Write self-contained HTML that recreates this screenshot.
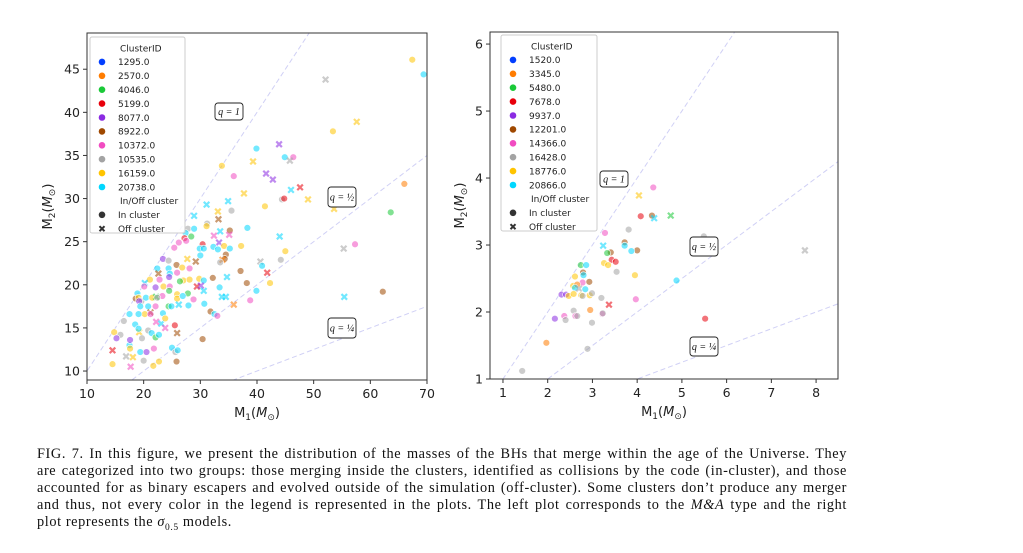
<!DOCTYPE html>
<html><head><meta charset="utf-8">
<style>
body{margin:0;background:#fff;width:1023px;height:553px;overflow:hidden;position:relative;font-family:"DejaVu Sans","Liberation Sans",sans-serif}
#cap{position:absolute;left:37px;top:446px;width:810px;font-family:"Liberation Serif",serif;font-size:14.3px;line-height:17px;color:#111;letter-spacing:0.6px}
#cap div{text-align:justify;text-align-last:justify;white-space:nowrap}
#cap div.last{text-align-last:left}
</style></head><body>
<svg id="svg" width="1023" height="440" style="position:absolute;left:0;top:0"></svg>
<div id="cap">
<div>FIG. 7. In this figure, we present the distribution of the masses of the BHs that merge within the age of the Universe. They</div>
<div>are categorized into two groups: those merging inside the clusters, identified as collisions by the code (in-cluster), and those</div>
<div>accounted for as binary escapers and evolved outside of the simulation (off-cluster). Some clusters don’t produce any merger</div>
<div>and thus, not every color in the legend is represented in the plots. The left plot corresponds to the <i>M&amp;A</i> type and the right</div>
<div class="last">plot represents the <i>σ</i><sub style="font-size:9.5px">0.5</sub> models.</div>
</div>
<script>
const colors=["#023eff","#ff7c00","#1ac938","#e8000b","#8b2be2","#9f4800","#f14cc1","#a3a3a3","#ffc400","#00d7ff"];
const leftIDs=["1295.0","2570.0","4046.0","5199.0","8077.0","8922.0","10372.0","10535.0","16159.0","20738.0"];
const rightIDs=["1520.0","3345.0","5480.0","7678.0","9937.0","12201.0","14366.0","16428.0","18776.0","20866.0"];
const leftM1=[67.4,69.4,52.1,57.6,53.4,39.9,43.9,44.9,46.4,45.8,33.8,39.3,35.9,41.6,42.8,47.6,46.0,37.7,44.4,44.8,49.0,66.0,53.6,63.6,41.4,34.9,31.1,33.1,35.5,28.9,33.2,31.2,31.1,27.8,28.9,27.4,35.2,35.1,33.5,38.3,28.4,27.2,26.2,27.5,25.4,33.3,32.4,30.4,29.9,30.6,32.3,33.1,34.2,35.2,37.2,44.0,45.0,55.3,57.3,44.2,40.6,40.9,41.8,42.3,39.9,55.4,62.2,34.5,34.3,33.9,33.5,30.0,29.2,27.7,23.4,24.4,25.8,26.8,28.1,22.4,24.4,25.9,22.6,24.6,24.5,37.1,32.2,34.7,38.2,21.1,22.8,20.2,20.1,22.1,23.5,24.6,27.0,28.1,26.4,29.8,30.6,29.4,30.1,30.6,33.4,24.5,23.3,25.9,25.9,27.8,26.9,28.8,18.9,18.6,19.1,19.6,20.4,21.5,22.2,22.4,19.2,19.4,20.8,22.1,23.4,24.4,24.9,26.2,27.9,33.8,34.5,35.9,38.8,30.7,31.8,32.5,33.0,21.2,20.2,21.2,19.1,17.5,16.5,18.5,20.8,19.2,19.1,21.4,22.2,23.1,23.8,23.8,25.5,22.1,22.7,25.9,30.4,14.8,15.9,15.2,17.5,17.6,19.7,14.5,17.6,19.4,20.5,21.8,25.0,25.6,26.0,18.1,16.9,20.0,22.7,14.5,17.7,21.7,25.8];
const leftM2=[46.1,44.4,43.8,38.9,37.8,35.8,36.3,34.8,34.8,34.4,33.8,34.3,32.6,32.9,32.2,31.3,31.0,30.6,29.9,30.0,29.9,31.7,28.8,28.4,29.1,29.7,29.3,28.5,28.6,28.0,27.6,27.1,26.8,26.5,26.5,26.0,26.3,25.8,26.2,26.6,25.6,25.4,24.9,25.1,24.3,24.9,25.7,24.7,24.2,24.2,24.4,24.1,24.5,24.2,24.5,25.6,23.9,24.2,24.7,22.9,22.7,22.2,21.4,20.2,19.3,18.6,19.2,23.5,23.0,22.9,22.6,23.4,22.7,23.0,23.0,22.8,22.3,22.0,21.9,21.9,21.9,21.4,21.3,21.3,20.9,21.6,20.8,20.9,20.2,20.6,20.6,20.2,19.8,19.7,19.8,19.8,20.5,20.6,20.4,20.7,20.5,19.8,19.9,19.3,19.7,19.3,18.7,18.9,18.4,19.0,18.7,18.3,19.0,18.4,18.5,18.1,18.5,18.5,18.6,18.5,18.1,17.5,17.5,17.5,16.7,17.5,17.5,17.7,17.6,18.6,18.6,17.7,18.2,17.8,16.9,16.6,16.4,16.8,16.6,16.6,16.6,16.6,15.8,15.4,14.7,14.5,14.9,14.4,15.7,15.5,16.1,15.0,15.3,13.9,14.2,14.4,13.7,14.5,14.2,13.8,13.0,13.6,13.8,12.4,12.6,12.2,12.2,12.6,12.7,12.2,12.4,11.6,11.7,11.2,11.1,10.8,10.5,10.6,11.1];
const leftC=[8,9,7,8,8,9,4,9,6,7,8,8,6,4,4,3,9,8,7,3,8,1,8,2,8,9,9,8,7,9,5,7,8,7,9,9,5,6,9,9,2,3,6,6,6,4,6,3,9,9,9,9,8,9,8,9,8,7,6,7,7,9,3,8,9,9,5,5,5,1,7,9,5,8,4,7,5,8,6,9,9,6,5,9,4,5,5,9,5,8,6,9,6,4,8,6,8,8,2,8,9,3,4,9,9,2,6,8,8,2,9,6,9,5,8,7,9,8,2,7,4,9,9,6,9,2,9,9,9,9,9,1,6,9,5,9,6,5,8,6,9,9,7,9,7,8,9,9,6,9,8,6,3,2,9,5,5,8,7,4,9,4,7,3,8,9,4,6,9,7,9,8,7,7,8,8,6,8,5];
const leftMk="ooxxooxooxoxoxxxxxooxoxooxxxoxxooooooxxooooooxxooooooooxoxooxoxooxoooxooxxooooooooxooooxoooxoooooooooxxxooooooooooooooxooooooooxoxxxoooooxoooooooxooxxoxoooxoooooooxoooooooxxoooxoox";
const rightM1=[4.36,4.04,4.08,4.33,4.38,4.75,3.81,3.28,3.72,3.72,5.49,3.24,4.0,3.87,3.41,3.33,7.75,3.43,3.52,3.26,3.35,2.74,2.86,2.79,2.80,3.54,3.95,4.88,2.61,2.78,2.93,2.57,2.66,2.61,2.70,2.84,2.31,2.41,2.47,2.58,2.75,2.78,2.94,2.99,3.20,3.97,3.37,2.95,2.58,3.22,3.23,2.37,2.62,2.66,2.16,2.40,2.99,5.52,1.97,2.89,1.43];
const rightM2=[3.86,3.74,3.43,3.44,3.40,3.44,3.23,3.18,3.04,2.99,3.13,2.99,2.92,2.91,2.89,2.88,2.92,2.78,2.75,2.73,2.70,2.70,2.70,2.59,2.55,2.60,2.55,2.47,2.53,2.44,2.45,2.39,2.41,2.36,2.35,2.34,2.26,2.26,2.24,2.27,2.25,2.24,2.25,2.28,2.21,2.19,2.11,2.03,2.02,1.97,1.98,1.94,1.94,1.94,1.90,1.88,1.84,1.90,1.54,1.45,1.12];
const rightC=[6,8,3,5,9,2,7,6,5,9,7,9,5,9,5,2,7,3,3,8,8,2,9,5,9,7,8,9,8,6,5,8,1,9,7,9,4,4,8,8,8,7,8,7,7,6,3,1,7,6,7,6,6,7,4,7,7,3,1,7,7];
const rightMk="oxooxxoooooxooooxoooooooooooooooooxoooooooooooxooooooooooooooooo";
const leftXTicks=[10,20,30,40,50,60,70], leftYTicks=[10,15,20,25,30,35,40,45];
const rightXTicks=[1,2,3,4,5,6,7,8], rightYTicks=[1,2,3,4,5,6];
const NS="http://www.w3.org/2000/svg";
const svg=document.getElementById('svg');
function mk(tag,attrs,parent){const e=document.createElementNS(NS,tag);for(const k in attrs)e.setAttribute(k,attrs[k]);(parent||svg).appendChild(e);return e;}
function scale(d0,d1,p0,p1){return v=>p0+(v-d0)/(d1-d0)*(p1-p0);}
function panel(cfg){
  const g=mk('g',{});
  
  
  const X=scale(cfg.xd[0],cfg.xd[1],cfg.box[0],cfg.box[2]);
  const Y=scale(cfg.yd[0],cfg.yd[1],cfg.box[3],cfg.box[1]);
  const clip=mk('clipPath',{id:cfg.name+'-clip'},g);
  mk('rect',{x:cfg.box[0],y:cfg.box[1],width:cfg.box[2]-cfg.box[0],height:cfg.box[3]-cfg.box[1]},clip);
  const inner=mk('g',{'clip-path':'url(#'+cfg.name+'-clip)'},g);
  [1,0.5,0.25].forEach(q=>{
    const l=mk('line',{x1:X(0),y1:Y(0),x2:X(cfg.xd[1]*1.2),y2:Y(cfg.xd[1]*1.2*q),stroke:'#d0d0f5','stroke-width':1,'stroke-dasharray':'5,3'},inner);
    
    
  });
  for(let i=0;i<cfg.m1.length;i++){
    const cx=X(cfg.m1[i]),cy=Y(cfg.m2[i]),col=colors[cfg.c[i]];
    if(cfg.mk[i]==='x'){
      const p=mk('path',{d:`M${cx-2.8},${cy-2.8}L${cx+2.8},${cy+2.8}M${cx-2.8},${cy+2.8}L${cx+2.8},${cy-2.8}`,stroke:col,'stroke-width':2.2,opacity:0.55},inner);
      
      
    }else{
      const c=mk('circle',{cx:cx,cy:cy,r:3.4,fill:col,'fill-opacity':0.55,stroke:'#fff','stroke-width':0.6},inner);
      
      
    }
  }
  cfg.qlabels.forEach(ql=>{
    const r=mk('rect',{x:ql.x,y:ql.y,width:28,height:ql.h,rx:3,fill:'#fff',stroke:'#222','stroke-width':0.9},g);
    
    
    const t=mk('text',{x:ql.x+14,y:ql.y+ql.h/2+3.5,'text-anchor':'middle','font-size':10,'font-family':'Liberation Serif, serif','font-style':'italic',fill:'#111'},g);
    t.textContent=ql.t;
    
    
  });
  const fr=mk('rect',{x:cfg.box[0],y:cfg.box[1],width:cfg.box[2]-cfg.box[0],height:cfg.box[3]-cfg.box[1],fill:'none',stroke:'#333','stroke-width':1},g);
  
  
  cfg.xt.forEach(v=>{
    mk('line',{x1:X(v),x2:X(v),y1:cfg.box[3],y2:cfg.box[3]+4,stroke:'#333'},g);
    const t=mk('text',{x:X(v),y:cfg.box[3]+18,'text-anchor':'middle','font-size':12.5,fill:'#222'},g);
    t.textContent=v;
    
    
  });
  cfg.yt.forEach(v=>{
    mk('line',{x1:cfg.box[0]-4,x2:cfg.box[0],y1:Y(v),y2:Y(v),stroke:'#333'},g);
    const t=mk('text',{x:cfg.box[0]-7,y:Y(v)+4.5,'text-anchor':'end','font-size':12.5,fill:'#222'},g);
    t.textContent=v;
    
    
  });
  const xl=mk('text',{x:(cfg.box[0]+cfg.box[2])/2,y:cfg.box[3]+37,'text-anchor':'middle','font-size':13,fill:'#222'},g);
  xl.innerHTML='M<tspan font-size="9" dy="3">1</tspan><tspan dy="-3">(</tspan><tspan font-style="italic">M</tspan><tspan font-size="9" dy="3">⊙</tspan><tspan dy="-3">)</tspan>';
  
  
  const yl=mk('text',{x:0,y:0,'text-anchor':'middle','font-size':13,fill:'#222',transform:`translate(${cfg.ylx},${(cfg.box[1]+cfg.box[3])/2}) rotate(-90)`},g);
  yl.innerHTML='M<tspan font-size="9" dy="3">2</tspan><tspan dy="-3">(</tspan><tspan font-style="italic">M</tspan><tspan font-size="9" dy="3">⊙</tspan><tspan dy="-3">)</tspan>';
  
  
  const lg=mk('g',{},g);
  
  
  const L=cfg.leg;
  mk('rect',{x:L[0],y:L[1],width:L[2],height:196,rx:2,fill:'#fff','fill-opacity':0.85,stroke:'#ccc'},lg);
  const rows=['ClusterID'].concat(cfg.ids).concat(['In/Off cluster','In cluster','Off cluster']);
  rows.forEach((r,i)=>{
    const y=L[1]+11+i*13.9;
    const header=(i===0||i===11);
    const t=mk('text',{x:header?L[0]+30:L[0]+28,y:y+3.3,'font-size':9,fill:'#222'},lg);
    t.textContent=r;
    
    
    if(i>=1&&i<=10) mk('circle',{cx:L[0]+12,cy:y,r:3.3,fill:colors[i-1]},lg);
    if(i===12) mk('circle',{cx:L[0]+12,cy:y,r:3.3,fill:'#333'},lg);
    if(i===13) mk('path',{d:`M${L[0]+9.5},${y-2.5}L${L[0]+14.5},${y+2.5}M${L[0]+9.5},${y+2.5}L${L[0]+14.5},${y-2.5}`,stroke:'#333','stroke-width':2},lg);
  });
}
panel({name:'left-plot',box:[87,33,427,380],xd:[10,70],yd:[8.96,49.2],m1:leftM1,m2:leftM2,c:leftC,mk:leftMk,xt:leftXTicks,yt:leftYTicks,ylx:52,leg:[90,37,95],ids:leftIDs,
  qlabels:[{x:215,y:103,h:17,t:'q = 1'},{x:328,y:187,h:20,t:'q = ½'},{x:328,y:318,h:20,t:'q = ¼'}]});
panel({name:'right-plot',box:[490,32,838,379],xd:[0.71,8.49],yd:[1,6.18],m1:rightM1,m2:rightM2,c:rightC,mk:rightMk,xt:rightXTicks,yt:rightYTicks,ylx:464,leg:[501,35,96],ids:rightIDs,
  qlabels:[{x:600,y:171,h:16,t:'q = 1'},{x:690,y:237,h:19,t:'q = ½'},{x:690,y:337,h:19,t:'q = ¼'}]});
</script>
</body></html>
